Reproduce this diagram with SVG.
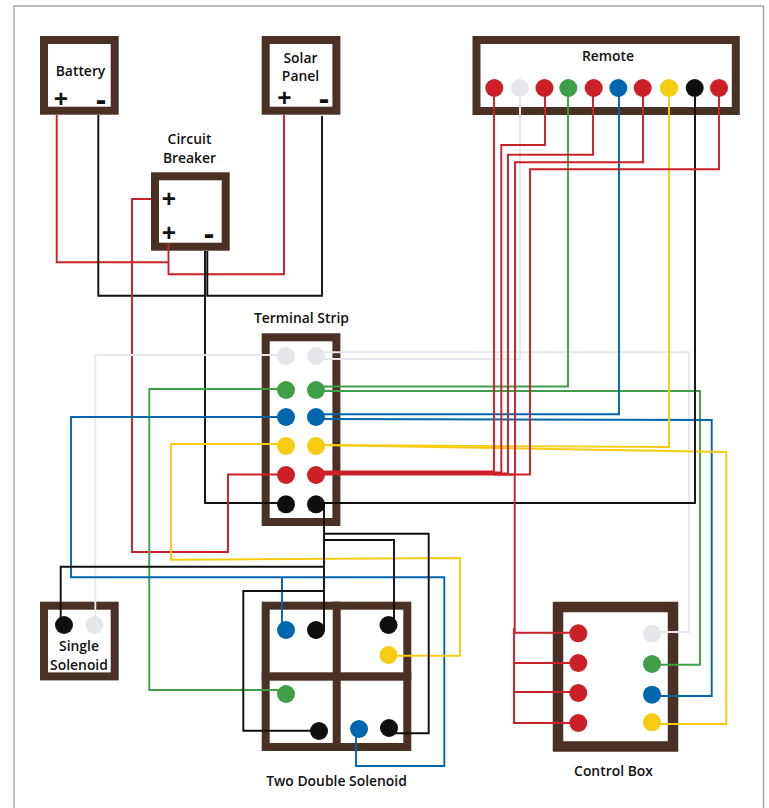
<svg xmlns="http://www.w3.org/2000/svg" width="769" height="808" viewBox="0 0 769 808">
<style>
.box{fill:#fff;stroke:#4a3125;stroke-width:8}
.bar{fill:#4a3125;stroke:none}
text{font-family:"Open Sans","Noto Sans","Liberation Sans",sans-serif;font-weight:600;font-size:13.900px;fill:#111;text-anchor:middle}
text.sign{font-weight:700;font-size:25px}
text.minus{font-weight:700;font-size:31px}
#connectors path{fill:none;stroke-width:1.9;stroke-linejoin:miter}
.r{stroke:#cc2029}.w{stroke:#e6e7ec}.g{stroke:#409e49}.b{stroke:#0066ad}.y{stroke:#f7cb10}.k{stroke:#0f0f0f}
circle{stroke:none}
.fr{fill:#cc2029}.fw{fill:#e6e7ea}.fg{fill:#409e49}.fb{fill:#0066ad}.fy{fill:#f7cb10}.fk{fill:#0f0f0f}
</style>
<rect width="769" height="808" fill="#fff"/>
<path d="M14 808V6H763.500V808" fill="none" stroke="#a0a2a5" stroke-width="1.300"/>

<g id="battery"><rect class="box" x="44" y="40" width="70.700" height="70.700"/><text x="80.500" y="76">Battery</text><text class="sign" x="61" y="108">+</text><text class="minus" x="101" y="110">-</text></g>
<g id="solar-panel"><rect class="box" x="265.700" y="40" width="70.700" height="70.700"/><text x="300.500" y="63">Solar</text><text x="300.500" y="81">Panel</text><text class="sign" x="284.500" y="107">+</text><text class="minus" x="324" y="109">-</text></g>
<g id="circuit-breaker"><rect class="box" x="155" y="176.300" width="70.700" height="70.400"/><text x="189.500" y="144">Circuit</text><text x="189.500" y="163">Breaker</text><text class="sign" x="169" y="208">+</text><text class="sign" x="169" y="242">+</text><text class="minus" x="209" y="244">-</text></g>
<g id="remote"><rect class="box" x="476.500" y="40" width="259.300" height="71"/><text x="608" y="61">Remote</text></g>
<g id="terminal-strip"><rect class="box" x="265.700" y="337.300" width="70.700" height="184.700"/><text x="301.500" y="323">Terminal Strip</text></g>
<g id="single-solenoid"><rect class="box" x="44" y="605.700" width="70.700" height="70.700"/><text x="79" y="651">Single</text><text x="79" y="670">Solenoid</text></g>
<g id="two-double-solenoid"><rect class="box" x="265.700" y="605.700" width="141.600" height="141.300"/><rect class="bar" x="332.700" y="601.700" width="8" height="149.300"/><rect class="bar" x="261.700" y="672.300" width="149.600" height="8.400"/><text x="336.500" y="786">Two Double Solenoid</text></g>
<g id="control-box"><rect class="box" x="558" y="607" width="115" height="139.500" style="stroke-width:10.500"/><text x="613.500" y="776">Control Box</text></g>

<g id="connectors">
<path class="r" d="M56.700 115V262.300H168"/>
<path class="r" d="M168.500 243V274.300H284V115"/>
<path class="k" d="M98.300 115V295.700H204"/>
<path class="k" d="M207.300 251V295.700H322V116"/>
<path class="k" d="M205 251V503H286"/>
<path class="r" d="M151 199H132V552H228V474.500H286"/>
<path class="w" d="M286 355H95.300V625"/>
<path class="g" d="M286 389H149.300V690H286"/>
<path class="b" d="M286 417H71V577.300H444.300V766H356V729"/>
<path class="b" d="M282 577.300V630"/>
<path class="y" d="M286 444H171V559.700L460 558V655.700H388"/>
<path class="k" d="M316 504H324V630H316"/>
<path class="k" d="M324 533.700H428.700V733.300H389"/>
<path class="k" d="M324 540H394V625"/>
<path class="k" d="M324 566.700H60.700V625"/>
<path class="k" d="M324 591H243.300V730.700H319"/>
<path class="w" d="M316 352.300H689V632H652"/>
<path class="w" d="M316 359H520V88"/>
<path class="g" d="M316 386.500H568V88"/>
<path class="g" d="M316 391H700V664.700H652"/>
<path class="b" d="M316 414.300H619V88"/>
<path class="b" d="M316 419L711.700 420V696H652"/>
<path class="y" d="M316 445L669 447V88"/>
<path class="y" d="M316 445L726.300 452V724H652"/>
<path class="k" d="M316 503H695V88"/>
<path class="r" d="M316 471.500H494V88"/>
<path class="r" d="M316 472.500H501.300V145H545V88"/>
<path class="r" d="M316 473.500H508V154.700H593V88"/>
<path class="r" d="M316 474.500H515V162.300H643V88"/>
<path class="r" d="M494 474.500H530V169.300H719V88"/>
<path class="r" d="M514.700 475V632.700H578"/>
<path class="r" d="M514 628V723H578"/>
<path class="r" d="M513 663H578"/>
<path class="r" d="M513 692H578"/>
</g>

<g id="remote-terminals">
<circle class="fr" cx="494.300" cy="88" r="9"/><circle class="fw" cx="519.700" cy="88" r="9"/><circle class="fr" cx="544.500" cy="88" r="9"/><circle class="fg" cx="568.300" cy="88" r="9"/><circle class="fr" cx="593.700" cy="88" r="9"/><circle class="fb" cx="618.300" cy="88" r="9"/><circle class="fr" cx="642.700" cy="88" r="9"/><circle class="fy" cx="669" cy="88" r="9"/><circle class="fk" cx="694.700" cy="88" r="9"/><circle class="fr" cx="719" cy="88" r="9"/>
</g>
<g id="strip-terminals">
<circle class="fw" cx="286" cy="356" r="9"/><circle class="fw" cx="316" cy="356" r="9"/>
<circle class="fg" cx="286" cy="390" r="9"/><circle class="fg" cx="316" cy="390" r="9"/>
<circle class="fb" cx="286" cy="417" r="9"/><circle class="fb" cx="316" cy="417" r="9"/>
<circle class="fy" cx="286" cy="446" r="9"/><circle class="fy" cx="316" cy="446" r="9"/>
<circle class="fr" cx="286" cy="475" r="9"/><circle class="fr" cx="316" cy="475" r="9"/>
<circle class="fk" cx="286" cy="504.300" r="9"/><circle class="fk" cx="316" cy="504.300" r="9"/>
</g>
<g id="single-solenoid-terminals">
<circle class="fk" cx="64" cy="625" r="9"/><circle class="fw" cx="94.300" cy="625" r="9"/>
</g>
<g id="double-solenoid-terminals">
<circle class="fb" cx="286" cy="630" r="9"/><circle class="fk" cx="316" cy="630" r="9"/><circle class="fk" cx="388.500" cy="625" r="9"/><circle class="fy" cx="388.500" cy="655" r="9"/><circle class="fg" cx="286" cy="694" r="9"/><circle class="fk" cx="319" cy="731" r="9"/><circle class="fb" cx="359" cy="729" r="9"/><circle class="fk" cx="389" cy="728" r="9"/>
</g>
<g id="control-box-terminals">
<circle class="fr" cx="578.300" cy="633.300" r="9"/><circle class="fr" cx="578.300" cy="663" r="9"/><circle class="fr" cx="578.300" cy="693" r="9"/><circle class="fr" cx="578.300" cy="723" r="9"/>
<circle class="fw" cx="652" cy="633.700" r="9"/><circle class="fg" cx="652" cy="664" r="9"/><circle class="fb" cx="652" cy="694.700" r="9"/><circle class="fy" cx="652" cy="722.300" r="9"/>
</g>
</svg>
